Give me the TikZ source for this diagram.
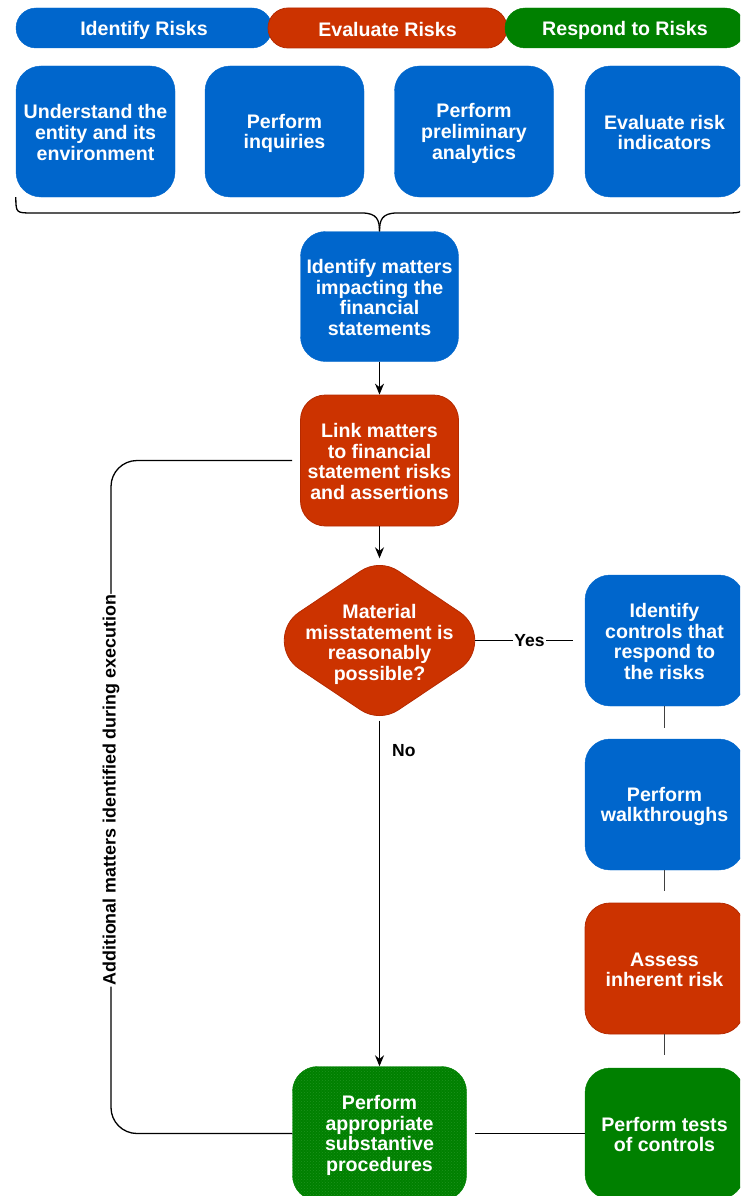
\documentclass[tikz,border=0pt]{standalone}
\usepackage{fontspec}
\setmainfont{Liberation Sans}
\usetikzlibrary{shapes.geometric,arrows.meta,patterns}
\definecolor{cblue}{HTML}{0066CC}
\definecolor{cred}{HTML}{CC3300}
\definecolor{credb}{HTML}{B52A00}
\definecolor{cgreen}{HTML}{008000}
\definecolor{cgreenl}{HTML}{1E931E}
\newcommand\ls{\rule[-2pt]{0pt}{20pt}}
\newcommand\hs{\rule[-1pt]{0pt}{20pt}}
\newcommand\boxfont{\fontsize{19.6}{20.6}\selectfont\bfseries\lineskiplimit=-50pt\relax\lineskip=0pt\relax}
\begin{document}
\begin{tikzpicture}[x=1pt,y=-1pt,
  boxtext/.style={align=center, text=white, font=\boxfont},
  box/.style={boxtext, rounded corners=25pt, minimum width=159pt, minimum height=131pt, inner sep=0pt},
  bluebox/.style={box, fill=cblue, draw=cblue},
  redbox/.style={box, fill=cred, draw=credb, line width=0.8pt},
  greenbox/.style={box, fill=cgreen, draw=cgreen},
  pill/.style={boxtext, rounded corners=20pt, minimum height=40pt, inner sep=0pt},
  conn/.style={line width=1.3pt, draw=black},
  arr/.style={conn, -{Stealth[length=11pt,width=9pt]}},
  thinline/.style={line width=1pt, draw=black!75},
  lbl/.style={font=\fontsize{17.5}{18}\selectfont\bfseries, text=black, inner sep=1pt, fill=white}]
\useasboundingbox (0,0) rectangle (740,1196);
\clip (0,0) rectangle (740,1196);
% header
\node[pill, fill=cblue, draw=cblue, minimum width=256pt] (h1) at (144,28) {\hs Identify Risks};
\node[pill, fill=cred, draw=credb, line width=0.8pt, minimum width=239pt] (h2) at (387.5,28) {\hs Evaluate Risks};
\node[pill, fill=cgreen, draw=cgreen, minimum width=240pt] (h3) at (625,28) {\hs Respond to Risks};
% top row
\node[bluebox] (b1) at (95.5,131.5) {\ls Understand the\\\ls entity and its\\\ls environment};
\node[bluebox] (b2) at (284.5,131.5) {\ls Perform\\\ls inquiries};
\node[bluebox] (b3) at (474,131.5) {\ls Perform\\\ls preliminary\\\ls analytics};
\node[bluebox] (b4) at (664.5,131.5) {\ls Evaluate risk\\\ls indicators};
% middle column
\node[bluebox, minimum width=158pt, minimum height=130pt] (im) at (379.5,296.5) {\ls Identify matters\\\ls impacting the\\\ls financial\\\ls statements};
\node[redbox, minimum width=158pt] (lm) at (379.5,460.5) {\ls Link matters\\\ls to financial\\\ls statement risks\\\ls and assertions};
% decision diamond (rounded), anchors from an invisible diamond node
\node[diamond, minimum width=245pt, minimum height=164pt, inner sep=0pt] (dm) at (379.5,640.5) {};
\filldraw[fill=cred, draw=credb, line width=0.8pt]
  (360.6,571.1) .. controls (372.05,563.5) and (386.95,563.5) .. (398.4,571.1)
  -- (459.6,612.1) .. controls (479.8,625.6) and (479.8,655.4) .. (459.6,668.9)
  -- (398.4,709.9) .. controls (386.95,717.5) and (372.05,717.5) .. (360.6,709.9)
  -- (299.4,668.9) .. controls (279.2,655.4) and (279.2,625.6) .. (299.4,612.1) -- cycle;
\node[boxtext, inner sep=0pt] (dmt) at ([yshift=-2pt]dm.center) {\ls Material\\\ls misstatement is\\\ls reasonably\\\ls possible?};
\node[greenbox, minimum width=174pt, minimum height=134pt, postaction={pattern=crosshatch dots, pattern color=cgreenl}] (sp) at (379.5,1133.5) {};
\node[boxtext, inner sep=0pt] (spt) at (sp.center) {\ls Perform\\\ls appropriate\\\ls substantive\\\ls procedures};
% right column
\node[bluebox] (ic) at (664.5,640.5) {\ls Identify\\\ls controls that\\\ls respond to\\\ls the risks};
\node[bluebox] (wt) at (664.5,804.5) {\ls Perform\\\ls walkthroughs};
\node[redbox] (ar) at (664.5,968.5) {\ls Assess\\\ls inherent risk};
\node[greenbox] (tc) at (664.5,1133.5) {\ls Perform tests\\\ls of controls};
% brace
\draw[conn] (b1.south west) .. controls (16,213) .. (33,213) -- (362,213) .. controls (377,213) and (379.5,220) .. (im.north);
\draw[conn] (im.north) .. controls (379.5,220) and (382,213) .. (397,213) -- (726,213) .. controls (743,213) .. (b4.south east);
% connectors
\draw[arr] (im) -- (lm);
\draw[arr] (lm) -- (dm);
\draw[arr, shorten <=-2pt] (dm) -- node[lbl, fill=none, anchor=west, pos=0.081, xshift=11pt] {No} (sp);
\draw[conn, shorten <=-27pt, shorten >=12pt] (dm) -- node[lbl, pos=0.33] {Yes} (ic);
\draw[thinline, shorten >=11pt] (ic) -- (wt);
\draw[thinline, shorten >=12pt] (wt) -- (ar);
\draw[thinline, shorten >=13pt] (ar) -- (tc);
\draw[conn, shorten >=8pt] (tc) -- (sp);
\coordinate (lb) at (111,1133.5);
\coordinate (lt) at (111,460.5);
\draw[conn, rounded corners=26pt, shorten >=8pt] (sp.west) -- (lb) -- node[lbl, font=\fontsize{17.9}{18}\selectfont\bfseries, rotate=90, pos=0.51] {Additional matters identified during execution} (lt) -- (lm.west);
\end{tikzpicture}
\end{document}
